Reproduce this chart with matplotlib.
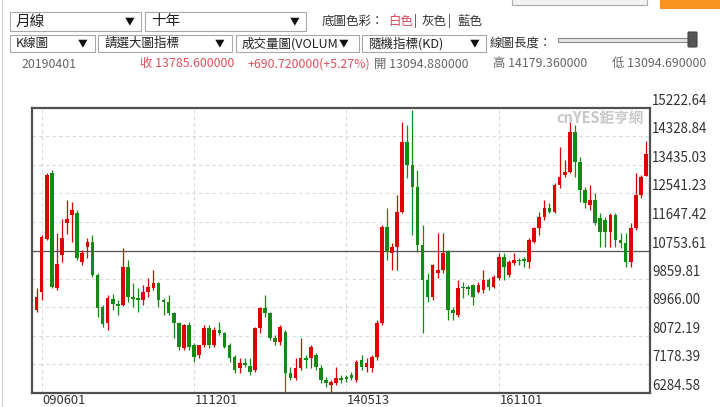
import matplotlib
matplotlib.use("Agg")
import matplotlib.pyplot as plt
import matplotlib.transforms as mtransforms
from matplotlib.patches import Rectangle, FancyBboxPatch

plt.rcParams['font.family'] = ['Noto Sans CJK TC', 'DejaVu Sans']

# monthly K bars, 2009/05 .. 2019/04
opens = [8888, 9452, 11114, 13184, 9578, 10613, 11616, 11867, 11930, 10393,
         10864, 11020, 9986, 8982, 8480, 9233, 9076, 9045, 10236, 9296,
         9264, 9202, 9452, 9578, 9735, 9202, 9139, 8794, 8480, 7696,
         8418, 7790, 7477, 7790, 8324, 7790, 8261, 8166, 7790, 7414,
         7069, 7226, 7132, 7006, 8324, 8951, 8794, 8010, 7885, 8198,
         6912, 6756, 7069, 7382, 7382, 7477, 7069, 6693, 6536, 6599,
         6756, 6787, 6850, 6693, 7320, 7100, 7069, 7414, 8480, 11491,
         10676, 10864, 11961, 14156, 13435, 12745, 10926, 9829, 9296, 10048,
         10142, 10707, 8888, 8731, 9609, 9609, 9672, 9452, 9515, 9829,
         9609, 9891, 10550, 9986, 10362, 10456, 10487, 10393, 11020, 11459,
         11804, 12087, 11961, 12808, 13122, 13216, 14470, 13529, 12651, 12181,
         12337, 11773, 11710, 11334, 11867, 11083, 10989, 10393, 11459, 12494,
         13094.88]
highs = [9578, 11240, 13184, 13278, 11303, 11742, 12337, 12275, 12024, 10770,
         11146, 11240, 10048, 9045, 9358, 9390, 9202, 10833, 10456, 9735,
         9578, 9672, 9891, 10142, 9766, 9264, 9358, 8825, 8512, 8450,
         8512, 7853, 7790, 8418, 8418, 8355, 8512, 8198, 7853, 7477,
         7382, 7382, 7382, 8355, 8982, 9358, 8825, 8104, 8418, 8261,
         7100, 7382, 8010, 7477, 7790, 7540, 7163, 6787, 6693, 7100,
         6850, 6850, 6944, 7320, 7477, 7382, 7477, 8574, 11554, 12087,
         10989, 12494, 14784, 14690, 15160, 13278, 11554, 10048, 10330, 11303,
         11303, 10770, 8982, 9829, 9766, 9672, 9700, 9766, 10142, 9891,
         9986, 10676, 10676, 10456, 10676, 10519, 10550, 11146, 11491, 11961,
         12337, 12243, 12870, 14000, 13592, 14909, 14690, 13686, 12745, 12808,
         12557, 11930, 11804, 11930, 11930, 11303, 11303, 11616, 13184, 13122,
         14179.36]
lows = [8825, 9202, 11083, 9578, 9515, 10393, 11271, 11020, 10456, 10299,
        10519, 9923, 8668, 8355, 8261, 8888, 8731, 9014, 9139, 8982,
        8825, 9045, 9296, 9515, 8982, 8731, 8731, 8010, 7634, 7634,
        7634, 7257, 7382, 7728, 7696, 7728, 8104, 7696, 7257, 6912,
        6912, 7100, 6850, 6944, 8166, 8668, 7947, 7790, 7790, 6316,
        6693, 6693, 7006, 7069, 7069, 7006, 6599, 6475, 6290, 6536,
        6599, 6630, 6693, 6630, 7006, 6944, 6944, 7320, 8418, 10456,
        10142, 10142, 11930, 13027, 11240, 10707, 8166, 9139, 9202, 9891,
        10048, 8574, 8574, 8668, 9264, 9358, 9045, 9421, 9421, 9515,
        9578, 9829, 9829, 9923, 10299, 10299, 10236, 10205, 10989, 11240,
        11710, 11930, 11930, 12714, 13059, 13184, 13059, 12275, 12087, 12024,
        11554, 10864, 10864, 10864, 10864, 10833, 10236, 10236, 11397, 12400,
        13094.69]
closes = [9296, 11177, 13122, 9609, 10330, 11146, 11742, 12024, 10519, 10676,
          11020, 9986, 8951, 8449, 9264, 9076, 9014, 10236, 9296, 9233,
          9202, 9452, 9609, 9735, 9202, 9139, 8794, 8480, 7728, 8418,
          7728, 7414, 7790, 8324, 7790, 8261, 8166, 7728, 7382, 7006,
          7226, 7163, 6944, 8324, 8951, 8794, 8010, 7885, 8355, 6912,
          6756, 7069, 7382, 7320, 7728, 7100, 6693, 6599, 6630, 6756,
          6693, 6724, 6756, 7257, 7100, 7226, 7414, 8480, 11491, 10707,
          10864, 11961, 14156, 13435, 12745, 10926, 9829, 9296, 10299, 10142,
          10676, 8888, 8794, 9578, 9578, 9546, 9296, 9672, 9829, 9609,
          9923, 10550, 10236, 10393, 10456, 10425, 10425, 11083, 11459, 11804,
          12087, 11961, 12808, 13059, 13216, 14470, 13529, 12651, 12243, 12337,
          11616, 11334, 11334, 11867, 11083, 10989, 10393, 11459, 12494, 13059,
          13785.6]

y_ticks = [6284.58, 7178.39, 8072.19, 8966.00, 9859.81, 10753.61,
           11647.42, 12541.23, 13435.03, 14328.84, 15222.64]
x_tick_pos = [1, 31, 61, 91]
x_tick_labels = ['090601', '111201', '140513', '161101']
ref_level = 10745

UP = '#e00000'
DOWN = '#138a13'

fig = plt.figure(figsize=(7.2, 4.07), dpi=100)

# page widgets drawn in pixel coordinates
ui = fig.add_axes([0, 0, 1, 1])
ui.set_xlim(0, 720)
ui.set_ylim(407, 0)
ui.axis('off')


def dropdown(x0, x1, y0, y1, label, arrow_x, size):
    ui.add_patch(Rectangle((x0, y0), x1 - x0, y1 - y0, facecolor='white',
                           edgecolor='#a8a8a8', lw=0.8))
    ui.text(x0 + 6, (y0 + y1) / 2, label, fontsize=size, color='#222',
            va='center', ha='left')
    ui.text(arrow_x, (y0 + y1) / 2, '▼', fontsize=7, color='#111',
            va='center', ha='center')


ui.plot([2, 2], [0, 407], color='#d0d0d0', lw=0.8)
ui.add_patch(Rectangle((512, -3), 135, 8, facecolor='#f2f2f2', edgecolor='#aaaaaa', lw=0.8))
ui.add_patch(Rectangle((660, -3), 62, 12, facecolor='#f7931e', edgecolor='none'))

dropdown(10, 141, 12, 31, '月線', 130, 10.5)
dropdown(145, 306, 12, 31, '十年', 295, 10.5)
ui.text(322, 21, '底圖色彩：', fontsize=9, color='#333', va='center')
ui.text(388, 21, '白色', fontsize=9, color='#e0455a', va='center')
ui.text(414, 21, '|', fontsize=9, color='#333', va='center')
ui.text(422, 21, '灰色', fontsize=9, color='#333', va='center')
ui.text(448, 21, '|', fontsize=9, color='#333', va='center')
ui.text(457, 21, '藍色', fontsize=9, color='#333', va='center')

dropdown(10, 95, 35, 52, 'K線圖', 83, 9)
dropdown(98, 232, 35, 52, '請選大圖指標', 220, 9)
dropdown(236, 359, 35, 52, '成交量圖(VOLUM', 344, 9)
dropdown(362, 486, 35, 52, '隨機指標(KD)', 475, 9)
ui.text(490, 43, '線圖長度：', fontsize=9, color='#333', va='center')
ui.add_patch(FancyBboxPatch((559, 39), 136, 3, boxstyle='round,pad=0.5',
                            facecolor='#e6e6e6', edgecolor='#888888', lw=0.8))
ui.add_patch(FancyBboxPatch((689, 33), 7, 13, boxstyle='round,pad=1',
                            facecolor='#555555', edgecolor='#444444', lw=0.8))

ui.text(22, 64, '20190401', fontsize=8.9, color='#666', va='center')
ui.text(140, 64, '收 13785.600000', fontsize=8.9, color='#e0505a', va='center')
ui.text(248, 64, '+690.720000(+5.27%)', fontsize=8.9, color='#e0505a', va='center')
ui.text(374, 64, '開 13094.880000', fontsize=8.9, color='#666', va='center')
ui.text(493, 64, '高 14179.360000', fontsize=8.9, color='#666', va='center')
ui.text(612, 64, '低 13094.690000', fontsize=8.9, color='#666', va='center')

# candlestick chart
ax = fig.add_axes([32 / 720, 14 / 407, 618 / 720, 285 / 407])
ax.set_xlim(-0.9, 120.8)
ax.set_ylim(y_ticks[0], y_ticks[-1])
ax.set_facecolor('white')

for v in y_ticks[1:-1]:
    ax.axhline(v, color='#d9d9d9', lw=0.8, ls=(0, (3, 3)), zorder=0)
for p in x_tick_pos:
    ax.axvline(p, color='#d9d9d9', lw=0.8, ls=(0, (3, 3)), zorder=0)
ax.axhline(ref_level, color='#555555', lw=0.9, zorder=1)

xs = list(range(len(opens)))
cols = [UP if c >= o else DOWN for o, c in zip(opens, closes)]
ax.vlines(xs, lows, highs, colors=cols, lw=0.9, zorder=2)
bottoms = [min(o, c) for o, c in zip(opens, closes)]
heights = [max(abs(c - o), 35) for o, c in zip(opens, closes)]
ax.bar(xs, heights, bottom=bottoms, width=0.72, color=cols, lw=0, zorder=3)

ax.set_xticks([])
ax.set_yticks([])
for s in ax.spines.values():
    s.set_color('#505050')
    s.set_linewidth(1.6)

ylab_tr = mtransforms.offset_copy(ax.get_yaxis_transform(), fig=fig, x=2, y=3, units='dots')
for v in y_ticks:
    ax.text(1.0, v, '%.2f' % v, transform=ylab_tr, fontsize=9.6, color='#333',
            ha='left', va='baseline', clip_on=False)

xlab_tr = mtransforms.offset_copy(ax.get_xaxis_transform(), fig=fig, x=1, y=-11.5, units='dots')
for p, lab in zip(x_tick_pos, x_tick_labels):
    ax.text(p, 0, lab, transform=xlab_tr, fontsize=9.3, color='#333',
            ha='left', va='baseline', clip_on=False)

ax.text(0.99, 0.965, 'cnYES鉅亨網', transform=ax.transAxes, fontsize=10.5,
        color='#c8c8c8', fontweight='bold', ha='right', va='center')

fig.savefig('out.png', dpi=100)
